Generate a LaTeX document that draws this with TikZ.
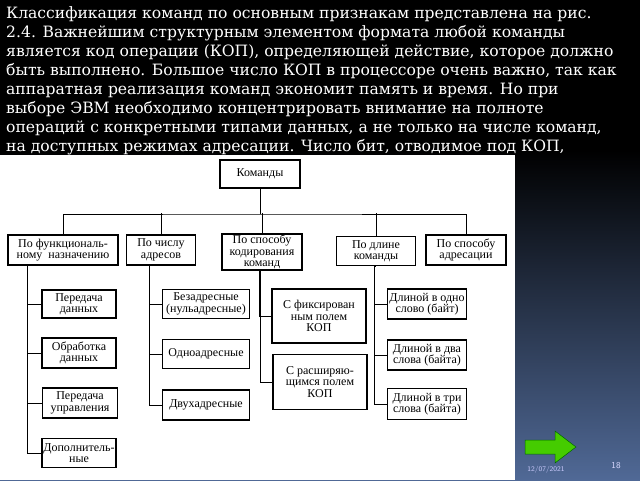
\documentclass[tikz,border=0pt]{standalone}
\usepackage{fontspec}
\setmainfont{DejaVu Serif}
\newfontfamily\boxfont{Liberation Serif}
\usetikzlibrary{positioning}
\begin{document}
\begin{tikzpicture}[x=1pt,y=-1pt,
    line/.style={anchor=base west,text=white,font=\fontsize{15.6}{18}\selectfont,inner sep=0pt},
    box/.style={draw,line width=1.4pt,fill=white,align=center,inner sep=1pt,font=\boxfont\fontsize{12}{11.5}\selectfont},
    link/.style={draw,line width=0.8pt}]
\useasboundingbox (0,0) rectangle (640,480);
\fill[black] (0,0) rectangle (640,150);
\fill[top color=black,bottom color={rgb,255:red,80;green,105;blue,150}] (0,150) rectangle (640,480);
% text
\node[line] (t1) at (6,18) {Классификация команд по основным признакам представлена на рис.};
\node[line] (t2) at (6,37) {2.4. Важнейшим структурным элементом формата любой команды};
\node[line] (t3) at (6,56) {является код операции (КОП), определяющей действие, которое должно};
\node[line] (t4) at (6,75) {быть выполнено. Большое число КОП в процессоре очень важно, так как};
\node[line] (t5) at (6,94) {аппаратная реализация команд экономит память и время. Но при};
\node[line] (t6) at (6,113) {выборе ЭВМ необходимо концентрировать внимание на полноте};
\node[line] (t7) at (6,132) {операций с конкретными типами данных, а не только на числе команд,};
\node[line] (t8) at (6,151) {на доступных режимах адресации. Число бит, отводимое под КОП,};
% picture
\fill[white] (0,155) rectangle (515,480);
\node[box,minimum width=80,minimum height=28] (K) at (260,174) {Команды};
\node[box,minimum width=110,minimum height=30] (F) at (63,250) {По функциональ-\\ному \ назначению};
\node[box,minimum width=69,minimum height=30] (N) at (161,250) {По числу\\адресов};
\node[box,minimum width=80,minimum height=36] (C) at (262,252) {По способу\\кодирования\\команд};
\node[box,minimum width=79,minimum height=29] (L) at (376,251) {По длине\\команды};
\node[box,minimum width=80,minimum height=30] (A) at (466,250) {По способу\\адресации};
\node[box,minimum width=74,minimum height=28] (F1) at (79,304) {Передача\\данных};
\node[box,minimum width=74,minimum height=30] (F2) at (79,353) {Обработка\\данных};
\node[box,minimum width=75,minimum height=30] (F3) at (80,403) {Передача\\управления};
\node[box,minimum width=74,minimum height=29] (F4) at (79,453) {Дополнитель-\\ные};
\node[box,minimum width=87,minimum height=29] (N1) at (206,304) {Безадресные\\(нульадресные)};
\node[box,minimum width=87,minimum height=29] (N2) at (206,354) {Одноадресные};
\node[box,minimum width=87,minimum height=30] (N3) at (206,405) {Двухадресные};
\node[box,minimum width=94,minimum height=54] (C1) at (319,316) {С фиксирован\\ным полем\\КОП};
\node[box,minimum width=94,minimum height=55] (C2) at (320,382) {С расширяю-\\щимся полем\\КОП};
\node[box,minimum width=79,minimum height=30] (L1) at (427,304) {Длиной в одно\\слово (байт)};
\node[box,minimum width=79,minimum height=30] (L2) at (427,355) {Длиной в два\\слова (байта)};
\node[box,minimum width=79,minimum height=31] (L3) at (427,404) {Длиной в три\\слова (байта)};
\coordinate (bus) at (260,214);
\draw[link] (K) -- (bus);
\draw[link] (F.north) |- (bus) -| (A.north);
\draw[link] (N.north) -- ++(0,-21);
\draw[link] (C.north) -- ++(0,-20);
\draw[link] (L.north) -- ++(0,-22.5);
\foreach \n in {F1,F2,F3,F4} \draw[link] (\n.west) -- ++(-14,0) |- (28,265);
\foreach \n in {N1,N2,N3} \draw[link] (\n.west) -- ++(-12,0) |- (151,265);
\foreach \n in {C1,C2} \draw[link] (\n.west) -- ++(-12,0) |- (260,270);
\foreach \n in {L1,L2,L3} \draw[link] (\n.west) -- ++(-12,0) |- (376,266);
% footer
\fill[green!55!lime!80!black,draw=green!40!black,line width=0.5pt] (525,440) -- (555,440) -- (555,431) -- (576,447) -- (555,463) -- (555,454) -- (525,454) -- cycle;
\node[text=white!80!blue,font=\sffamily\fontsize{7}{8}\selectfont] (date) at (546,470) {12/07/2021};
\node[text=white!85!blue,font=\sffamily\fontsize{9}{10}\selectfont] (page) at (616,466) {18};
\end{tikzpicture}
\end{document}
